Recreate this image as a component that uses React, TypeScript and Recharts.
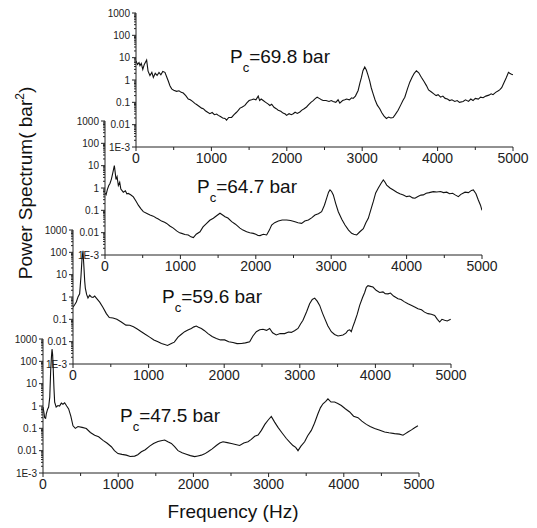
import React from "react";
import { LineChart, Line, XAxis, YAxis } from "recharts";

// ---------- data (frequency in Hz, power spectrum in bar^2) ----------
const freq698 = [0,20,40,53,70,90,110,141,160,185,210,230,255,280,305,330,355,384,410,428,450,473,500,539,570,600,627,660,693,720,750,780,804,840,870,892,920,950,980,1010,1040,1070,1091,1120,1150,1180,1201,1230,1268,1300,1330,1356,1380,1410,1444,1470,1500,1533,1560,1590,1621,1640,1660,1687,1720,1750,1775,1800,1830,1860,1886,1920,1950,1980,1997,2030,2060,2085,2110,2140,2173,2200,2230,2262,2290,2320,2350,2380,2403,2430,2460,2482,2520,2560,2590,2615,2650,2680,2703,2740,2770,2792,2830,2860,2880,2910,2946,2970,2990,3010,3034,3055,3078,3100,3120,3145,3170,3200,3233,3260,3290,3321,3350,3380,3410,3440,3476,3510,3540,3565,3600,3631,3660,3690,3719,3750,3786,3820,3852,3880,3918,3950,3980,4007,4040,4070,4100,4130,4160,4190,4228,4260,4290,4338,4370,4410,4440,4470,4500,4540,4570,4603,4640,4680,4710,4735,4770,4800,4823,4850,4880,4912,4940,4956,4980,5000];
const pow698 = [7.2,5.0,6.0,4.4,5.5,3.0,5.0,7.8,2.5,1.6,2.2,1.3,2.0,1.6,2.2,1.7,2.4,2.2,1.3,0.9,0.55,0.40,0.35,0.31,0.33,0.28,0.26,0.20,0.14,0.13,0.11,0.09,0.08,0.065,0.055,0.052,0.042,0.036,0.031,0.035,0.028,0.030,0.026,0.023,0.020,0.019,0.016,0.021,0.021,0.028,0.035,0.044,0.055,0.062,0.073,0.095,0.12,0.13,0.14,0.13,0.19,0.12,0.14,0.12,0.10,0.085,0.072,0.082,0.060,0.052,0.044,0.040,0.033,0.030,0.026,0.031,0.028,0.031,0.036,0.032,0.037,0.045,0.052,0.062,0.078,0.10,0.12,0.15,0.17,0.15,0.13,0.12,0.12,0.11,0.12,0.11,0.10,0.13,0.093,0.12,0.13,0.14,0.13,0.16,0.15,0.19,0.34,0.75,1.3,2.6,3.8,2.8,1.6,0.9,0.45,0.24,0.13,0.075,0.052,0.034,0.024,0.019,0.022,0.020,0.021,0.029,0.044,0.075,0.12,0.17,0.40,0.80,1.3,2.0,2.6,2.1,1.3,0.85,0.56,0.36,0.29,0.24,0.20,0.22,0.17,0.19,0.15,0.14,0.12,0.13,0.11,0.12,0.10,0.11,0.13,0.11,0.14,0.12,0.15,0.14,0.17,0.16,0.19,0.21,0.24,0.22,0.28,0.32,0.36,0.45,0.75,1.3,2.2,2.0,1.8,1.7];

const freq647 = [0,15,31,50,66,85,102,124,135,146,160,177,195,210,243,270,290,309,340,376,410,442,475,508,550,597,640,680,707,750,790,818,860,906,950,990,1017,1060,1105,1140,1172,1210,1260,1300,1348,1390,1437,1480,1525,1560,1592,1630,1680,1730,1790,1830,1879,1920,1967,2000,2030,2056,2100,2144,2180,2210,2250,2299,2350,2409,2460,2520,2560,2608,2650,2697,2740,2785,2830,2873,2910,2940,2965,2984,3005,3028,3060,3094,3140,3183,3230,3271,3300,3338,3380,3426,3460,3492,3530,3559,3590,3625,3660,3691,3710,3736,3780,3824,3870,3910,3957,4000,4040,4080,4111,4150,4190,4222,4260,4300,4355,4400,4450,4490,4532,4570,4610,4650,4686,4720,4775,4820,4860,4885,4920,4951,4980,5000];
const pow647 = [0.6,0.5,0.85,1.3,1.6,2.5,4.5,10,5,2.4,3.2,1.3,1.8,0.9,0.65,0.75,0.55,0.57,0.5,0.40,0.26,0.17,0.12,0.087,0.074,0.062,0.055,0.045,0.041,0.033,0.029,0.026,0.020,0.016,0.012,0.0098,0.0093,0.0083,0.0079,0.0065,0.006,0.0085,0.011,0.018,0.026,0.036,0.044,0.057,0.074,0.062,0.052,0.045,0.031,0.024,0.016,0.013,0.011,0.010,0.0093,0.0085,0.0075,0.0074,0.0085,0.0079,0.013,0.022,0.028,0.033,0.037,0.037,0.035,0.031,0.028,0.026,0.033,0.037,0.046,0.062,0.07,0.087,0.17,0.35,0.65,0.82,0.7,0.49,0.20,0.087,0.04,0.022,0.013,0.0093,0.0085,0.0079,0.011,0.015,0.028,0.044,0.12,0.25,0.60,1.0,1.6,2.3,1.9,1.35,1.0,0.82,0.65,0.55,0.49,0.41,0.44,0.36,0.35,0.42,0.48,0.49,0.58,0.62,0.69,0.66,0.70,0.62,0.65,0.55,0.58,0.48,0.41,0.52,0.65,0.62,0.78,0.82,0.55,0.29,0.17,0.10];

const freq596 = [0,22,44,66,88,105,119,132,140,146,155,163,180,198,220,243,265,287,320,353,395,441,480,529,580,639,700,750,800,850,904,950,1014,1070,1124,1170,1213,1250,1301,1340,1389,1430,1477,1520,1565,1600,1631,1660,1698,1740,1786,1840,1896,1950,2006,2060,2116,2170,2227,2280,2337,2380,2425,2470,2513,2560,2601,2640,2689,2740,2800,2850,2888,2930,2976,3010,3042,3090,3130,3165,3197,3230,3263,3300,3329,3370,3417,3460,3505,3540,3571,3610,3637,3660,3681,3700,3725,3760,3792,3830,3858,3880,3902,3935,3968,4010,4056,4100,4130,4167,4200,4240,4299,4340,4380,4431,4480,4520,4563,4610,4650,4695,4740,4784,4820,4850,4880,4916,4950,4996];
const pow596 = [0.35,0.45,0.6,1.0,1.4,8,50,117,40,18,5,2.5,1.3,0.9,1.2,1.0,0.95,1.1,0.8,0.59,0.35,0.18,0.12,0.115,0.10,0.076,0.055,0.054,0.046,0.037,0.028,0.022,0.016,0.012,0.0098,0.0082,0.0074,0.0068,0.0083,0.0095,0.016,0.021,0.028,0.033,0.039,0.046,0.05,0.044,0.039,0.031,0.023,0.017,0.014,0.012,0.012,0.010,0.0091,0.0082,0.0083,0.0088,0.0098,0.018,0.028,0.034,0.036,0.032,0.039,0.025,0.020,0.023,0.023,0.027,0.026,0.031,0.039,0.062,0.091,0.22,0.50,0.78,0.89,0.65,0.42,0.19,0.11,0.052,0.028,0.021,0.018,0.019,0.02,0.024,0.032,0.034,0.028,0.045,0.076,0.17,0.42,0.95,1.6,2.7,3.2,3.0,2.8,2.0,1.6,1.7,1.4,1.38,1.5,1.1,0.83,0.77,0.62,0.50,0.42,0.36,0.30,0.27,0.21,0.18,0.17,0.15,0.10,0.076,0.10,0.091,0.085,0.10];

const freq475 = [0,11,22,35,44,60,75,90,102,112,120,128,137,146,155,175,199,220,244,265,288,315,341,370,399,430,465,520,576,630,687,740,798,850,909,950,997,1050,1108,1160,1219,1260,1308,1360,1418,1470,1529,1570,1618,1660,1707,1750,1795,1850,1906,1960,2017,2060,2106,2150,2194,2250,2305,2350,2394,2450,2505,2560,2615,2670,2726,2770,2815,2860,2904,2950,2992,3036,3080,3125,3180,3236,3280,3324,3360,3391,3430,3479,3520,3568,3610,3656,3690,3723,3760,3789,3830,3878,3920,3967,4020,4078,4130,4189,4240,4300,4350,4410,4470,4543,4600,4676,4740,4787,4820,4853,4900,4942,4986];
const pow475 = [0.9,0.55,0.3,0.28,0.45,0.7,0.9,2.5,38,150,350,200,38,6,1.5,0.9,1.05,1.0,1.35,1.2,1.4,1.0,0.74,0.35,0.13,0.10,0.12,0.11,0.098,0.065,0.049,0.042,0.029,0.022,0.015,0.010,0.0074,0.0068,0.0063,0.0055,0.0057,0.0066,0.0089,0.011,0.016,0.021,0.026,0.028,0.030,0.025,0.021,0.015,0.010,0.0080,0.0069,0.0060,0.0054,0.0058,0.0063,0.0072,0.0089,0.012,0.017,0.022,0.025,0.023,0.021,0.019,0.017,0.022,0.025,0.032,0.044,0.050,0.081,0.15,0.23,0.34,0.19,0.11,0.062,0.035,0.024,0.017,0.014,0.010,0.016,0.025,0.047,0.081,0.17,0.45,0.85,1.26,1.6,2.1,1.5,1.5,1.3,1.05,0.75,0.54,0.35,0.30,0.21,0.15,0.12,0.098,0.085,0.069,0.063,0.058,0.055,0.049,0.058,0.069,0.085,0.107,0.13];

const pressureLabels = ["69.8", "64.7", "59.6", "47.5"];
const yMajorTicks = [0.001, 0.01, 0.1, 1, 10, 100, 1000];
const yMajorLabels = ["1E-3", "0.01", "0.1", "1", "10", "100", "1000"];
const xTicks = [0, 500, 1000, 1500, 2000, 2500, 3000, 3500, 4000, 4500, 5000];
const xMajorTicks = [0, 1000, 2000, 3000, 4000, 5000];

// ---------- helpers ----------
const FONT = "'Liberation Sans', Arial, sans-serif";
const yMinorTicks: number[] = [];
for (let d = 0; d < yMajorTicks.length - 1; d++) {
  for (let m = 2; m <= 9; m++) yMinorTicks.push(+(yMajorTicks[d] * m).toPrecision(3));
}
const yAllTicks = [...yMajorTicks, ...yMinorTicks].sort((a, b) => a - b);

const build = (f: number[], p: number[]) => f.map((v, i) => ({ f: v, p: p[i] }));

const TS = 4; // tickSize
const TM = 2; // tickMargin

const YTick = (props: any) => {
  const { x, y, payload } = props;
  const ax = x + TS + TM;
  const idx = yMajorTicks.findIndex((t) => Math.abs(t - payload.value) / t < 1e-6);
  const major = idx >= 0;
  return (
    <g>
      <line x1={ax} x2={ax - (major ? 4 : 2)} y1={y} y2={y} stroke="#222" strokeWidth={1} />
      {major && (
        <text x={ax - 6} y={y} dy={3.5} textAnchor="end" fontSize={10} fontFamily={FONT} fill="#222">
          {yMajorLabels[idx]}
        </text>
      )}
    </g>
  );
};

const XTick = (props: any) => {
  const { x, y, payload } = props;
  const ay = y - TS - TM;
  const major = xMajorTicks.includes(payload.value);
  return (
    <g>
      <line x1={x} x2={x} y1={ay} y2={ay + (major ? 4 : 3)} stroke="#222" strokeWidth={1} />
      {major && (
        <text x={x} y={ay + 16} textAnchor="middle" fontSize={14} fontFamily={FONT} fill="#222">
          {payload.value}
        </text>
      )}
    </g>
  );
};

const YW = 40;
const MT = 6;
const MR = 24;
const XH = 24;

type PanelProps = { x0: number; x1: number; yTop: number; yBot: number; data: { f: number; p: number }[] };

const Panel = ({ x0, x1, yTop, yBot, data }: PanelProps) => {
  const w = YW + (x1 - x0) + MR;
  const h = MT + (yBot - yTop) + XH;
  return (
    <div style={{ position: "absolute", left: x0 - YW, top: yTop - MT, width: w, height: h }}>
      <LineChart width={w} height={h} data={data} margin={{ top: MT, right: MR, bottom: 0, left: 0 }}>
        <XAxis
          dataKey="f"
          type="number"
          domain={[0, 5000]}
          ticks={xTicks}
          interval={0}
          height={XH}
          tickSize={TS}
          tickMargin={TM}
          tickLine={false}
          tick={<XTick />}
          axisLine={{ stroke: "#222", strokeWidth: 1 }}
          allowDataOverflow
        />
        <YAxis
          type="number"
          scale="log"
          domain={[0.001, 1000]}
          ticks={yAllTicks}
          interval={0}
          width={YW}
          tickSize={TS}
          tickMargin={TM}
          tickLine={false}
          tick={<YTick />}
          axisLine={{ stroke: "#222", strokeWidth: 1 }}
          allowDataOverflow
        />
        <Line
          dataKey="p"
          type="linear"
          stroke="#111"
          strokeWidth={1.1}
          dot={false}
          isAnimationActive={false}
        />
      </LineChart>
    </div>
  );
};

const panels = [
  { x0: 136, x1: 513, yTop: 13, yBot: 147, data: build(freq698, pow698), lx: 230, ly: 63 },
  { x0: 105, x1: 482, yTop: 121, yBot: 255, data: build(freq647, pow647), lx: 197, ly: 193 },
  { x0: 73, x1: 451, yTop: 230, yBot: 364, data: build(freq596, pow596), lx: 162, ly: 303 },
  { x0: 43, x1: 419, yTop: 339, yBot: 473, data: build(freq475, pow475), lx: 120, ly: 422 },
];

export default function App() {
  return (
    <div style={{ position: "absolute", left: 0, top: 0, width: 537, height: 528, background: "#fff", overflow: "hidden" }}>
      {panels.map((p, i) => (
        <Panel key={i} x0={p.x0} x1={p.x1} yTop={p.yTop} yBot={p.yBot} data={p.data} />
      ))}
      <svg width={537} height={528} style={{ position: "absolute", left: 0, top: 0, pointerEvents: "none" }}>
        {panels.map((p, i) => (
          <text key={i} x={p.lx} y={p.ly} fontSize={19} fontFamily={FONT} fill="#111">
            P
            <tspan fontSize={13} dy={9}>c</tspan>
            <tspan fontSize={19} dy={-9}>{"=" + pressureLabels[i] + " bar"}</tspan>
          </text>
        ))}
        <text
          x={32}
          y={183}
          transform="rotate(-90, 32, 183)"
          textAnchor="middle"
          fontSize={19}
          fontFamily={FONT}
          fill="#111"
        >
          Power Spectrum( bar
          <tspan fontSize={12} dy={-8}>2</tspan>
          <tspan fontSize={19} dy={8}>)</tspan>
        </text>
        <text x={233} y={518} textAnchor="middle" fontSize={19} fontFamily={FONT} fill="#111">
          Frequency (Hz)
        </text>
      </svg>
    </div>
  );
}
